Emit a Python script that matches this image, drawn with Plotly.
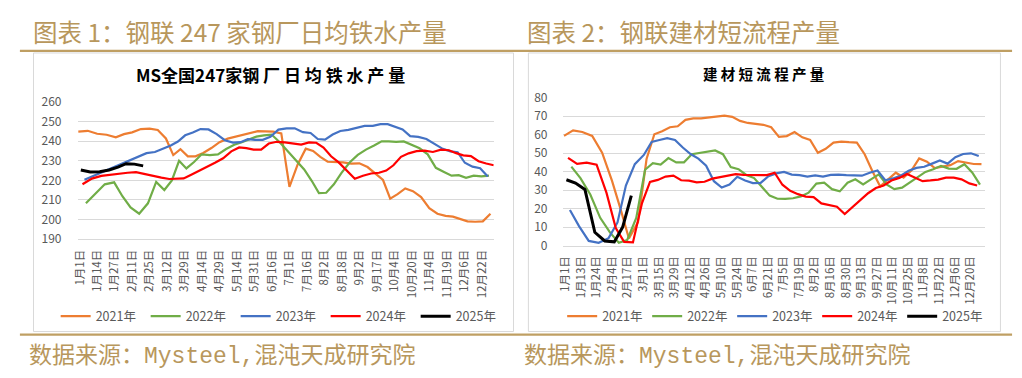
import re
from datetime import date
import numpy as np
import plotly.graph_objects as go

# ---------------- data ----------------
years = ["2021年", "2022年", "2023年", "2024年", "2025年"]
# first weekly report of each year, in days after 1 Jan
first_day = [-1.1, 4.55, 3.45, 2.0, 0.75]

# left chart: MS 247 mills daily hot-metal output (10k t/day)
hm_labels = ["1月1日", "1月14日", "1月27日", "2月11日", "2月25日", "3月12日", "3月29日",
             "4月14日", "4月29日", "5月14日", "5月31日", "6月16日", "7月1日", "7月16日",
             "8月2日", "8月18日", "9月2日", "9月17日", "10月4日", "10月20日", "11月4日",
             "11月19日", "12月6日", "12月22日"]
hm_2021 = [244.9, 245.3, 243.8, 243.3, 242.0, 243.6, 244.5, 246.2, 246.4, 245.7, 241.4, 232.9,
           235.9, 232.3, 232.3, 234.0, 236.5, 239.5, 241.3, 242.4, 243.3, 244.2, 245.1, 245.0,
           244.9, 244.0, 216.7, 228.0, 236.2, 235.0, 232.0, 229.5, 229.5, 229.2, 228.6, 228.7,
           226.8, 223.5, 220.2, 210.7, 213.0, 215.9, 214.5, 211.5, 205.8, 203.0, 201.9, 201.5,
           200.5, 199.1, 198.9, 199.1, 203.0]
hm_2022 = [208.3, 213.2, 218.0, 219.0, 211.9, 206.2, 203.0, 208.3, 219.2, 215.1, 220.0, 230.0,
           226.1, 229.4, 233.3, 232.9, 233.3, 236.0, 238.2, 239.5, 240.7, 242.3, 243.0, 243.4,
           239.5, 235.0, 230.5, 225.6, 219.8, 213.5, 213.7, 218.0, 223.8, 229.1, 233.0, 235.7,
           237.8, 239.9, 239.9, 239.7, 239.9, 238.0, 236.4, 233.3, 226.4, 224.3, 222.4, 222.7,
           221.3, 222.4, 222.0, 222.4]
hm_2023 = [220.3, 222.3, 224.3, 226.4, 228.3, 230.1, 231.9, 233.9, 234.5, 236.0, 237.8, 239.8,
           243.0, 244.4, 246.2, 246.0, 243.6, 240.5, 239.3, 239.5, 241.0, 240.7, 240.7, 242.2,
           245.9, 246.5, 246.6, 244.6, 244.2, 241.1, 240.8, 243.4, 245.2, 245.8, 246.8, 247.8,
           247.8, 248.7, 248.7, 247.5, 246.0, 242.6, 242.2, 241.1, 238.4, 236.1, 234.8, 234.4,
           229.0, 227.0, 226.2, 222.0]
hm_2024 = [218.0, 220.9, 222.3, 223.0, 223.5, 223.9, 224.2, 223.1, 222.3, 221.4, 220.7, 220.8,
           221.0, 222.9, 224.8, 226.8, 229.0, 231.3, 234.8, 236.8, 236.5, 235.7, 235.7, 238.8,
           239.7, 239.4, 239.0, 238.3, 239.4, 239.2, 236.8, 232.3, 229.2, 225.0, 220.8, 222.4,
           223.5, 223.9, 225.0, 227.7, 232.0, 233.8, 234.9, 235.2, 234.5, 235.7, 235.4, 233.9,
           232.8, 232.4, 229.8, 228.6, 227.7]
hm_2025 = [225.3, 224.3, 224.4, 225.3, 226.8, 228.5, 228.3, 227.4]

# right chart: rebar EAF (short-process) output
eaf_labels = ["1月1日", "1月13日", "1月24日", "2月4日", "2月17日", "3月1日", "3月15日", "3月29日",
              "4月12日", "4月26日", "5月10日", "5月24日", "6月7日", "6月21日", "7月5日", "7月19日",
              "8月2日", "8月16日", "8月30日", "9月13日", "9月27日", "10月11日", "10月25日",
              "11月8日", "11月22日", "12月6日", "12月20日"]
eaf_2021 = [59.3, 62.3, 61.4, 59.3, 50.2, 35.0, 20.0, 3.8, 12.7, 46.8, 60.2, 61.8, 64.0, 64.5,
            68.0, 68.8, 68.8, 69.3, 70.0, 70.3, 69.6, 67.4, 66.3, 65.9, 65.3, 64.0, 58.8, 59.2,
            61.4, 58.5, 57.1, 50.2, 52.3, 55.7, 56.2, 55.9, 55.7, 49.4, 40.2, 32.0, 35.8, 39.4,
            36.8, 40.6, 47.1, 45.4, 41.9, 42.6, 43.5, 45.7, 45.0, 44.1, 44.0]
eaf_2022 = [42.7, 36.5, 27.6, 15.0, 7.0, 1.5, 3.0, 15.0, 41.0, 44.5, 43.8, 47.3, 45.0, 45.0,
            49.4, 50.2, 50.7, 51.4, 49.4, 42.5, 41.3, 38.2, 36.5, 31.5, 27.0, 25.3, 25.2, 25.6,
            26.6, 28.6, 33.5, 34.0, 30.5, 29.3, 34.0, 35.8, 33.0, 35.8, 38.5, 33.0, 30.5, 31.3,
            34.2, 36.9, 39.8, 41.3, 43.1, 41.6, 41.5, 44.0, 39.5, 33.0]
eaf_2023 = [19.2, 10.5, 2.5, 1.5, 4.0, 12.5, 32.5, 44.0, 49.0, 56.0, 57.1, 58.1, 57.1, 53.0,
            49.5, 47.0, 43.2, 34.8, 31.4, 33.0, 37.2, 35.2, 33.8, 33.9, 37.5, 39.0, 39.8, 38.4,
            38.1, 37.3, 37.9, 37.3, 38.2, 38.4, 38.1, 37.8, 37.8, 39.4, 40.6, 35.3, 36.3, 37.8,
            40.4, 42.0, 42.6, 44.3, 46.0, 44.3, 47.8, 49.5, 49.9, 48.4]
eaf_2024 = [47.4, 44.2, 44.8, 43.7, 28.5, 9.5, 2.0, 1.7, 23.0, 34.4, 35.5, 37.3, 37.8, 35.3,
            35.1, 34.2, 34.5, 36.2, 37.0, 38.0, 38.6, 38.2, 38.1, 38.1, 38.1, 39.4, 32.9, 29.6,
            27.8, 26.5, 26.2, 22.8, 22.1, 21.0, 17.0, 20.8, 24.8, 28.3, 31.1, 32.5, 35.2, 36.6,
            38.7, 36.6, 34.8, 35.2, 35.7, 36.7, 36.7, 35.8, 33.6, 32.5]
eaf_2025 = [35.6, 33.8, 30.3, 7.2, 2.5, 2.0, 10.0, 27.0]

colors = ["#ED7D31", "#70AD47", "#4472C4", "#FF0000", "#000000"]
widths = [2.2, 2.2, 2.2, 2.2, 3.0]

# ---------------- helpers ----------------
W, H = 1022, 378
FONT = "Noto Sans CJK SC"
TAN = "#B8975C"
GRID = "#D9D9D9"
TXT = "#595959"


def label_day(lbl):
    m, d = re.match(r"(\d+)月(\d+)日", lbl).groups()
    return (date(2021, int(m), int(d)) - date(2021, 1, 1)).days


def to_axis(days, labels):
    """category-axis position of a calendar day (labels are evenly spaced)"""
    ld = np.array([label_day(l) for l in labels], float)
    idx = np.arange(len(ld), dtype=float)
    days = np.asarray(days, float)
    p = np.interp(days, ld, idx)
    lo, hi = days < ld[0], days > ld[-1]
    p[lo] = (days[lo] - ld[0]) / (ld[1] - ld[0])
    p[hi] = idx[-1] + (days[hi] - ld[-1]) / (ld[-1] - ld[-2])
    return p


def fx(px):
    return px / W


def fy(py):
    return 1 - py / H


fig = go.Figure()

panels = [
    ([hm_2021, hm_2022, hm_2023, hm_2024, hm_2025], hm_labels, "x", "y", "legend"),
    ([eaf_2021, eaf_2022, eaf_2023, eaf_2024, eaf_2025], eaf_labels, "x2", "y2", "legend2"),
]
for series, labels, xa, ya, lg in panels:
    for name, vals, start, col, wd in zip(years, series, first_day, colors, widths):
        days = start + 7 * np.arange(len(vals))
        fig.add_trace(go.Scatter(
            x=to_axis(days, labels), y=vals, name=name, mode="lines",
            line=dict(color=col, width=wd), xaxis=xa, yaxis=ya, legend=lg,
            hoverinfo="skip"))

xcommon = dict(tickmode="array", tickangle=-90, showgrid=False, zeroline=False,
               showline=True, linecolor=GRID, linewidth=1, ticks="",
               tickfont=dict(family=FONT, size=11.5, color=TXT), ticklabelstandoff=5,
               fixedrange=True)
ycommon = dict(showgrid=True, gridcolor=GRID, gridwidth=1, zeroline=False, showline=False,
               ticks="", tickfont=dict(family=FONT, size=12, color=TXT),
               ticklabelstandoff=15, fixedrange=True)

fig.update_layout(
    width=W, height=H, autosize=False,
    margin=dict(l=0, r=0, t=0, b=0, pad=0),
    paper_bgcolor="white", plot_bgcolor="white",
    xaxis=dict(xcommon, domain=[fx(71), fx(490)], range=[-0.131, 23.676],
               tickvals=list(range(len(hm_labels))), ticktext=hm_labels, anchor="y"),
    yaxis=dict(ycommon, domain=[fy(240), fy(96.3)], range=[189.98, 260.02], dtick=10,
               anchor="x"),
    xaxis2=dict(xcommon, domain=[fx(560.3), fx(985)], range=[-0.127, 26.95],
                tickvals=list(range(len(eaf_labels))), ticktext=eaf_labels, anchor="y2"),
    yaxis2=dict(ycommon, domain=[fy(246.7), fy(91.7)], range=[-0.02, 80.02], dtick=10,
                anchor="x2"),
    legend=dict(orientation="h", x=fx(49), y=fy(321), xanchor="left", yanchor="middle",
                font=dict(family=FONT, size=12.5, color=TXT), bgcolor="rgba(0,0,0,0)",
                entrywidth=45, entrywidthmode="pixels", itemwidth=30),
    legend2=dict(orientation="h", x=fx(559), y=fy(321), xanchor="left", yanchor="middle",
                 font=dict(family=FONT, size=12.5, color=TXT), bgcolor="rgba(0,0,0,0)",
                 entrywidth=40, entrywidthmode="pixels", itemwidth=30),
    showlegend=True,
)

shapes = [
    # chart frames
    dict(type="rect", xref="paper", yref="paper", x0=fx(26.7), x1=fx(510), y0=fy(336.7),
         y1=fy(45), line=dict(color=GRID, width=1), layer="below"),
    dict(type="rect", xref="paper", yref="paper", x0=fx(525), x1=fx(1000.3), y0=fy(336.7),
         y1=fy(45), line=dict(color=GRID, width=1), layer="below"),
    # gold rules
    dict(type="line", xref="paper", yref="paper", x0=fx(13), x1=fx(1012), y0=fy(42.7),
         y1=fy(42.7), line=dict(color="#BF9F63", width=2.2)),
    dict(type="line", xref="paper", yref="paper", x0=fx(13), x1=fx(1012), y0=fy(340),
         y1=fy(340), line=dict(color="#BF9F63", width=2.2)),
]
fig.update_layout(shapes=shapes)

ann = [
    dict(text="图表 1：钢联 247 家钢厂日均铁水产量", x=fx(24), y=fy(22.5), xanchor="left",
         yanchor="middle", font=dict(family=FONT, size=24.5, color=TAN)),
    dict(text="图表 2：钢联建材短流程产量", x=fx(522), y=fy(22.5), xanchor="left",
         yanchor="middle", font=dict(family=FONT, size=24.5, color=TAN)),
    dict(text="<b>MS全国247家钢 厂 日 均 铁 水 产 量</b>", x=fx(265), y=fy(68), xanchor="center",
         yanchor="middle", font=dict(family=FONT, size=17, color="#000000")),
    dict(text="<b>建 材 短 流 程 产 量</b>", x=fx(762), y=fy(67), xanchor="center",
         yanchor="middle", font=dict(family=FONT, size=14.5, color="#000000")),
    dict(text="数据来源：<span style='font-family:Liberation Mono'>Mysteel,</span>混沌天成研究院",
         x=fx(20), y=fy(359), xanchor="left",
         yanchor="middle", font=dict(family=FONT, size=23, color=TAN)),
    dict(text="数据来源：<span style='font-family:Liberation Mono'>Mysteel,</span>混沌天成研究院",
         x=fx(519), y=fy(359), xanchor="left",
         yanchor="middle", font=dict(family=FONT, size=23, color=TAN)),
]
for a in ann:
    a.update(xref="paper", yref="paper", showarrow=False)
fig.update_layout(annotations=ann)

fig.write_html("out.html", config={"displayModeBar": False, "staticPlot": True},
               post_script="document.body.style.margin='0';document.body.style.overflow='hidden';")
